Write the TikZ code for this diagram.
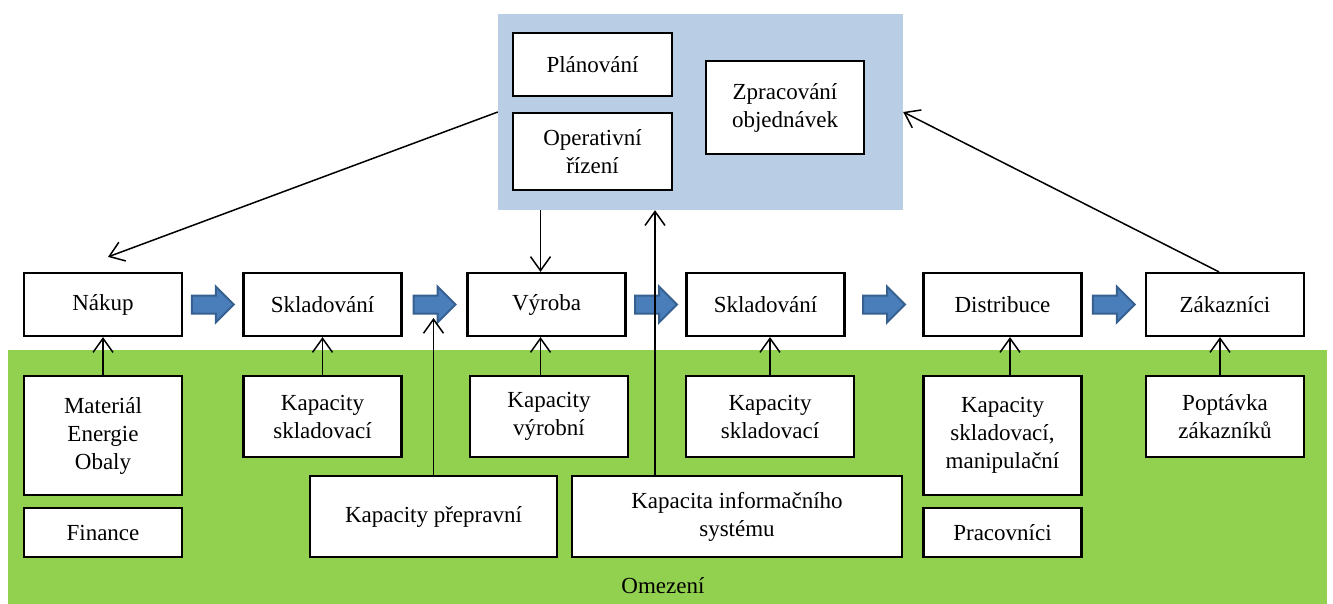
\documentclass[tikz,border=0pt]{standalone}
\usepackage{fontspec}
\setmainfont{Liberation Serif}
\usetikzlibrary{arrows.meta,calc}
\definecolor{ctrlblue}{HTML}{B9CDE5}
\definecolor{limitgreen}{HTML}{92D050}
\definecolor{arrowblue}{HTML}{4A7EBB}
\definecolor{arrowedge}{HTML}{36608F}
\tikzset{
  box/.style={draw, line width=2.2pt, fill=white, align=center, inner sep=0pt,
    minimum width=158pt, minimum height=63pt},
  flow/.style={-{Straight Barb[length=14pt,width=20pt]}, line width=1.5pt},
  blockarrow/.style={fill=arrowblue, draw=arrowedge, line width=2pt}
}

\begin{document}
\begin{tikzpicture}[x=1pt, y=-1pt, font=\fontsize{23}{28}\selectfont]
  \useasboundingbox (0,0) rectangle (1333,604);

  % areas
  \fill[limitgreen] (8,350) rectangle (1327,604);
  \node[fill=ctrlblue, inner sep=0pt, minimum width=405pt, minimum height=196pt] (ctrl) at (700.5,112) {};

  % control
  \node[box, minimum width=159pt] (plan) at (592.5,64.5) {Plánování};
  \node[box, minimum width=159pt, minimum height=77pt] (oper) at (592.5,151.5) {Operativní\\řízení};
  \node[box, minimum height=93pt] (zprac) at (785,107.5) {Zpracování\\objednávek};

  % main chain
  \node[box] (nakup) at (103,304.5) {Nákup};
  \node[box] (sklad1) at (322.5,304.5) {Skladování};
  \node[box] (vyroba) at (546.5,304.5) {Výroba};
  \node[box] (sklad2) at (765.5,304.5) {Skladování};
  \node[box] (distr) at (1002.5,304.5) {Distribuce};
  \node[box] (zakaz) at (1225,304.5) {Zákazníci};

  % constraints
  \node[box, minimum height=119pt] (mat) at (103,435.5) {Materiál\\Energie\\Obaly};
  \node[box, minimum height=49pt] (fin) at (103,532.5) {Finance};
  \node[box, minimum height=81pt] (kapsk1) at (322.5,416.5) {Kapacity\\skladovací};
  \node[box, minimum width=247pt, minimum height=81pt] (preprav) at (433.5,516.5) {Kapacity přepravní};
  \node[box, minimum height=81pt] (kapvyr) at (549,416.5) {Kapacity\\výrobní};
  \node[box, minimum width=330pt, minimum height=81pt] (infosys) at (737,516.5) {Kapacita informačního\\systému};
  \node[box, minimum width=168pt, minimum height=81pt] (kapsk2) at (770,416.5) {Kapacity\\skladovací};
  \node[box, minimum height=119pt] (kapman) at (1002.5,435.5) {Kapacity\\skladovací,\\manipulační};
  \node[box, minimum height=49pt] (prac) at (1002.5,532.5) {Pracovníci};
  \node[box, minimum height=81pt] (poptav) at (1225,416.5) {Poptávka\\zákazníků};
  \node (omez) at (663,586) {Omezení};

  % block arrows
  \foreach \a/\b in {nakup/sklad1, sklad1/vyroba, vyroba/sklad2, sklad2/distr, distr/zakaz} {
    \coordinate (m) at ($(\a.east)!0.5!(\b.west)$);
    \draw[blockarrow, shift={(m)}] (-21,-9) -- (3,-9) -- (3,-18) -- (21,0)
      -- (3,18) -- (3,9) -- (-21,9) -- cycle;
  }

  % connectors
  \foreach \lo/\hi/\dx in {mat/nakup/0, kapsk1/sklad1/0, kapvyr/vyroba/-8.5, kapsk2/sklad2/0, kapman/distr/7.5, poptav/zakaz/-5} {
    \coordinate (lo) at ([xshift=\dx pt]\lo.north);
    \draw[flow] (lo) -- (lo |- \hi.south);
  }

  \coordinate (nakuptip) at ([xshift=5pt,yshift=15pt]nakup.north);
  \draw[flow] (ctrl.west) -- (nakuptip);
  \coordinate (zakazup) at ([xshift=-6pt]zakaz.north);
  \draw[flow] (zakazup) -- (ctrl.east);
  \coordinate (vt) at ([xshift=-6pt]vyroba.north);
  \draw[flow] (vt |- ctrl.south) -- (vt);
  \coordinate (infoup) at (655,0);
  \draw[flow] (infosys.north -| infoup) -- (ctrl.south -| infoup);
  \coordinate (preptip) at (433.5,318);
  \draw[flow] (preprav.north) -- (preptip);
\end{tikzpicture}
\end{document}
